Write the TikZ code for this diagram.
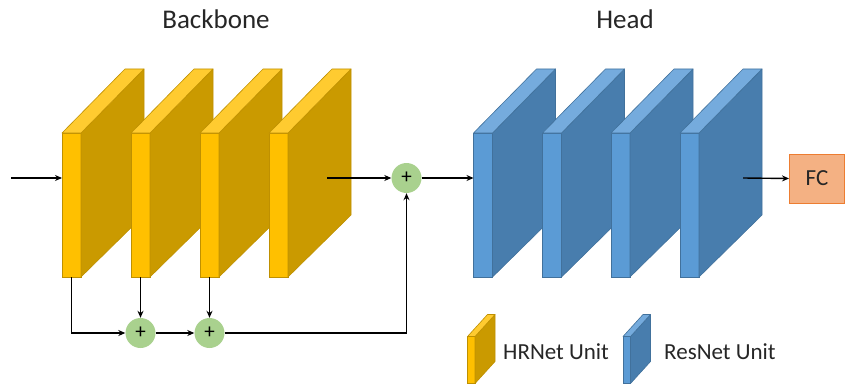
\documentclass[tikz,border=0pt]{standalone}
\usepackage{fontspec}
\setmainfont{Carlito}
\usetikzlibrary{arrows.meta,calc}
\definecolor{hrfront}{HTML}{FFC000}
\definecolor{hrside}{HTML}{CA9A00}
\definecolor{hrtop}{HTML}{FFCB30}
\definecolor{hredge}{HTML}{BF9000}
\definecolor{rsfront}{HTML}{5B9BD5}
\definecolor{rsside}{HTML}{487DAD}
\definecolor{rstop}{HTML}{75ABDD}
\definecolor{rsedge}{HTML}{41719C}
\definecolor{plusgreen}{HTML}{A9D18E}
\definecolor{fcfill}{HTML}{F4B183}
\definecolor{fcedge}{HTML}{ED7D31}
\definecolor{txt}{HTML}{262626}
\tikzset{
  front/.style={draw=#1edge, fill=#1front, line width=0.6pt, anchor=north west, inner sep=0pt, outer sep=0pt},
  sideface/.style={draw=#1edge, fill=#1side, line width=0.6pt, line join=round},
  topface/.style={draw=#1edge, fill=#1top, line width=0.6pt, line join=round},
  bigunit/.style={minimum width=19pt, minimum height=144pt},
  smallunit/.style={minimum width=7.5pt, minimum height=47pt},
  conn/.style={line width=1.4pt, -{Stealth[length=7pt,width=6pt]}},
  plus/.style={circle, fill=plusgreen, minimum size=30pt, inner sep=0pt, font=\fontsize{21}{21}\selectfont, text=black},
  title/.style={font=\fontsize{27}{27}\selectfont, text=txt},
  legend/.style={font=\fontsize{23}{23}\selectfont, text=txt, anchor=west, inner sep=0pt},
}
\begin{document}
\begin{tikzpicture}[x=1pt,y=-1pt]
\useasboundingbox (0,0) rectangle (845,385);
% titles
\node[title] (tb) at (216,19) {Backbone};
\node[title] (th) at (625,19) {Head};
% HRNet units
\foreach \i/\x in {1/62,2/131,3/200,4/269}{
  \node[front=hr, bigunit] (h\i) at (\x,133) {};
  \draw[sideface=hr] (h\i.north east) -- ++(63,-64) -- ++(0,145) -- ($(h\i.south east)+(63,-62)$) -- (h\i.south east) -- cycle;
  \draw[topface=hr] (h\i.north west) -- (h\i.north east) -- ++(63,-64) -- ++(-19,0) -- cycle;
}
% ResNet units
\foreach \i/\x in {1/473.5,2/542.5,3/611,4/680}{
  \node[front=rs, bigunit] (r\i) at (\x,133) {};
  \draw[sideface=rs] (r\i.north east) -- ++(63,-64) -- ++(0,145) -- ($(r\i.south east)+(63,-62)$) -- (r\i.south east) -- cycle;
  \draw[topface=rs] (r\i.north west) -- (r\i.north east) -- ++(63,-64) -- ++(-19,0) -- cycle;
}
% plus nodes
\node[plus] (p1) at (140.5,333) {+};
\node[plus] (p2) at (209.5,333) {+};
\node[plus] (p3) at (406.5,178) {+};
% FC
\node[draw=fcedge, fill=fcfill, line width=1pt, minimum width=55pt, minimum height=49pt, inner sep=0pt, font=\fontsize{23}{23}\selectfont, text=txt] (fc) at (817,178.5) {FC};
% connectors
\coordinate (in) at (11,178);
\coordinate (h4out) at (327,178);
\coordinate (r4out) at (743,178);
\draw[conn] (in) -- (in -| h1.west);
\draw[conn] (h4out) -- (p3.west);
\draw[conn] (p3.east) -- (p3 -| r1.west);
\draw[conn] (r4out) -- (fc.west);
\draw[conn] (h1.south) |- (p1.west);
\draw[conn] (h2.south) -- (p1.north);
\draw[conn] (h3.south) -- (p2.north);
\draw[conn] (p1.east) -- (p2.west);
\draw[conn] (p2.east) -| (p3.south);
% legend
\node[front=hr, smallunit] (lh) at (467.5,336.5) {};
\draw[sideface=hr] (lh.north east) -- ++(20,-22) -- ++(0,47) -- ($(lh.south east)+(20,-22)$) -- (lh.south east) -- cycle;
\draw[topface=hr] (lh.north west) -- (lh.north east) -- ++(20,-22) -- ++(-7.5,0) -- cycle;
\node[legend] (lht) at (503,352) {HRNet Unit};
\node[front=rs, smallunit] (lr) at (623,336.5) {};
\draw[sideface=rs] (lr.north east) -- ++(20,-22) -- ++(0,47) -- ($(lr.south east)+(20,-22)$) -- (lr.south east) -- cycle;
\draw[topface=rs] (lr.north west) -- (lr.north east) -- ++(20,-22) -- ++(-7.5,0) -- cycle;
\node[legend] (lrt) at (664,352) {ResNet Unit};
\end{tikzpicture}
\end{document}
